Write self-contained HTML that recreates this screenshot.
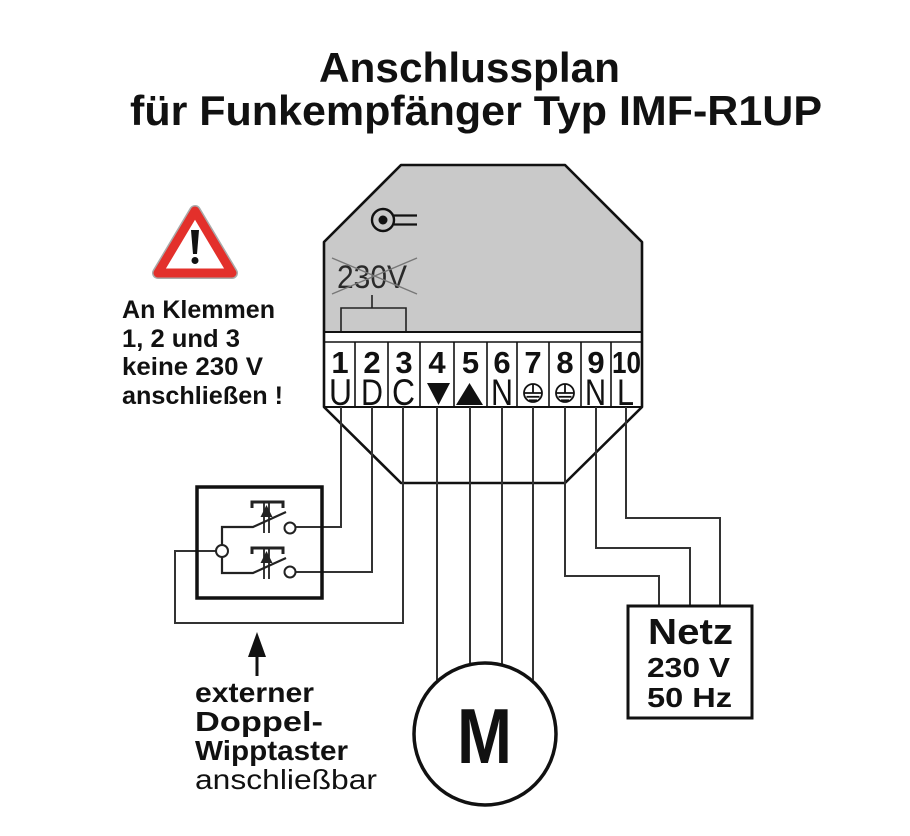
<!DOCTYPE html>
<html><head><meta charset="utf-8"><style>
html,body{margin:0;padding:0;background:#fff;}
svg{display:block;}
text{font-family:"Liberation Sans",Arial,sans-serif;}
</style></head><body>
<svg width="910" height="836" viewBox="0 0 910 836" xmlns="http://www.w3.org/2000/svg">
<rect width="910" height="836" fill="#fff"/>
<!-- Title -->
<text x="319" y="82" font-size="42" font-weight="bold" textLength="301" lengthAdjust="spacingAndGlyphs" fill="#111">Anschlussplan</text>
<text x="130" y="125" font-size="42" font-weight="bold" textLength="692" lengthAdjust="spacingAndGlyphs" fill="#111">für Funkempfänger Typ IMF-R1UP</text>

<!-- Warning triangle -->
<polygon points="195,211 158,273 232,273" fill="#fff" stroke="#aaa" stroke-width="12" stroke-linejoin="round"/>
<polygon points="195,211 158,273 232,273" fill="#fff" stroke="#e3302b" stroke-width="9" stroke-linejoin="round"/>
<path d="M191,230 L199,230 L197,254 L193,254 Z" fill="#111"/>
<circle cx="195" cy="260.5" r="3.5" fill="#111"/>

<g font-size="25" font-weight="bold" fill="#111">
<text x="122" y="318" textLength="153" lengthAdjust="spacingAndGlyphs">An Klemmen</text>
<text x="122" y="347" textLength="118" lengthAdjust="spacingAndGlyphs">1, 2 und 3</text>
<text x="122" y="375" textLength="141" lengthAdjust="spacingAndGlyphs">keine 230 V</text>
<text x="122" y="404" textLength="161" lengthAdjust="spacingAndGlyphs">anschließen !</text>
</g>

<!-- Device -->
<path d="M401,165 L565,165 L642,242 L642,407 L565,483 L401,483 L324,407 L324,242 Z" fill="#fff"/>
<path d="M401,165 L565,165 L642,242 L642,332 L324,332 L324,242 Z" fill="#c9c9c9"/>
<!-- icon -->
<circle cx="383" cy="220" r="11" fill="none" stroke="#111" stroke-width="2.4"/>
<circle cx="383" cy="220" r="4.5" fill="#111"/>
<line x1="394" y1="215.5" x2="417" y2="215.5" stroke="#111" stroke-width="2.2"/>
<line x1="394" y1="224.5" x2="417" y2="224.5" stroke="#111" stroke-width="2.2"/>
<!-- 230V crossed -->
<text x="337" y="288" font-size="32" fill="#2a2a2a" textLength="70" lengthAdjust="spacingAndGlyphs">230V</text>
<line x1="332" y1="258" x2="417" y2="294" stroke="#777" stroke-width="1.4"/>
<line x1="332" y1="294" x2="417" y2="258" stroke="#777" stroke-width="1.4"/>
<line x1="372" y1="295" x2="372" y2="308" stroke="#222" stroke-width="1.6"/>
<path d="M341,332 L341,308 L406,308 L406,332" fill="none" stroke="#222" stroke-width="1.6"/>

<!-- terminal lines -->
<g stroke="#111" stroke-width="1.6">
<line x1="324" y1="332" x2="642" y2="332" stroke-width="2"/>
<line x1="324" y1="342" x2="642" y2="342"/>
<line x1="324" y1="407" x2="642" y2="407" stroke-width="2"/>
<line x1="355" y1="342" x2="355" y2="407"/>
<line x1="388" y1="342" x2="388" y2="407"/>
<line x1="420" y1="342" x2="420" y2="407"/>
<line x1="454" y1="342" x2="454" y2="407"/>
<line x1="487" y1="342" x2="487" y2="407"/>
<line x1="517" y1="342" x2="517" y2="407"/>
<line x1="549" y1="342" x2="549" y2="407"/>
<line x1="581" y1="342" x2="581" y2="407"/>
<line x1="611" y1="342" x2="611" y2="407"/>
</g>
<g font-size="31" font-weight="bold" fill="#111" text-anchor="middle">
<text x="340" y="373">1</text>
<text x="372" y="373">2</text>
<text x="404" y="373">3</text>
<text x="437" y="373">4</text>
<text x="470.5" y="373">5</text>
<text x="502" y="373">6</text>
<text x="533" y="373">7</text>
<text x="565" y="373">8</text>
<text x="596" y="373">9</text>
<text x="626.5" y="373" textLength="29" lengthAdjust="spacingAndGlyphs">10</text>
</g>
<g font-size="37" fill="#111">
<text x="329" y="405" textLength="23" lengthAdjust="spacingAndGlyphs">U</text>
<text x="361" y="405" textLength="22" lengthAdjust="spacingAndGlyphs">D</text>
<text x="392" y="405" textLength="23" lengthAdjust="spacingAndGlyphs">C</text>
<text x="491" y="405" textLength="22" lengthAdjust="spacingAndGlyphs">N</text>
<text x="585" y="405" textLength="21" lengthAdjust="spacingAndGlyphs">N</text>
<text x="617" y="405" textLength="17" lengthAdjust="spacingAndGlyphs">L</text>
</g>
<polygon points="427,383 450,383 438.5,405" fill="#111"/>
<polygon points="456,405 483,405 469.5,383" fill="#111"/>
<!-- earth symbols -->
<g fill="none" stroke="#111" stroke-width="1.8">
<circle cx="533" cy="393" r="9"/>
<line x1="533" y1="384" x2="533" y2="393"/>
<line x1="524" y1="393" x2="542" y2="393"/>
<line x1="526.5" y1="396.8" x2="539.5" y2="396.8"/>
<line x1="529" y1="400.3" x2="537" y2="400.3"/>
<circle cx="565" cy="393" r="9"/>
<line x1="565" y1="384" x2="565" y2="393"/>
<line x1="556" y1="393" x2="574" y2="393"/>
<line x1="558.5" y1="396.8" x2="571.5" y2="396.8"/>
<line x1="561" y1="400.3" x2="569" y2="400.3"/>
</g>
<!-- device outline -->
<path d="M401,165 L565,165 L642,242 L642,407 L565,483 L401,483 L324,407 L324,242 Z" fill="none" stroke="#111" stroke-width="2.6" stroke-linejoin="round"/>

<!-- wires -->
<g fill="none" stroke="#333" stroke-width="2" stroke-linejoin="miter">
<path d="M341,407 L341,527 L295,527"/>
<path d="M372,407 L372,572 L295,572"/>
<path d="M403,407 L403,623 L175,623 L175,551 L216,551"/>
<path d="M437,407 L437,680"/>
<path d="M470,407 L470,664"/>
<path d="M502,407 L502,664"/>
<path d="M533,407 L533,680"/>
<path d="M565,407 L565,576 L659,576 L659,606"/>
<path d="M596,407 L596,548 L690,548 L690,606"/>
<path d="M626,407 L626,518 L720,518 L720,606"/>
</g>

<!-- switch box -->
<rect x="197" y="487" width="125" height="111" fill="none" stroke="#111" stroke-width="3.5"/>
<g fill="none" stroke="#222" stroke-width="2.2">
<path d="M222,545 L222,527 L253,527 L286,512"/>
<path d="M222,557 L222,573 L253,573 L286,558"/>
<!-- push button 1 -->
<path d="M252,508 L252,502 L283,502 L283,508" stroke-width="3"/>
<line x1="264" y1="502" x2="264" y2="533" stroke-width="1.8"/>
<line x1="269" y1="502" x2="269" y2="533" stroke-width="1.8"/>
<!-- push button 2 -->
<path d="M252,554 L252,548 L283,548 L283,554" stroke-width="3"/>
<line x1="264" y1="548" x2="264" y2="579" stroke-width="1.8"/>
<line x1="269" y1="548" x2="269" y2="579" stroke-width="1.8"/>
</g>
<polygon points="266.5,505 260.5,517 272.5,517" fill="#222"/>
<polygon points="266.5,551 260.5,563 272.5,563" fill="#222"/>
<g fill="#fff" stroke="#222" stroke-width="2">
<circle cx="222" cy="551" r="6"/>
<circle cx="290" cy="528" r="5.5"/>
<circle cx="290" cy="572" r="5.5"/>
</g>

<!-- arrow and bottom text -->
<line x1="257" y1="652" x2="257" y2="676" stroke="#111" stroke-width="3"/>
<polygon points="257,632 248,657 266,657" fill="#111"/>
<g font-size="28" fill="#111">
<text x="195" y="702" font-weight="bold" textLength="119" lengthAdjust="spacingAndGlyphs">externer</text>
<text x="195" y="731" font-weight="bold" textLength="128" lengthAdjust="spacingAndGlyphs">Doppel-</text>
<text x="195" y="760" font-weight="bold" textLength="153" lengthAdjust="spacingAndGlyphs">Wipptaster</text>
<text x="195" y="789" textLength="182" lengthAdjust="spacingAndGlyphs">anschließbar</text>
</g>

<!-- Motor -->
<circle cx="485" cy="734" r="71" fill="none" stroke="#111" stroke-width="3.5"/>
<text x="457" y="763" font-size="78" font-weight="bold" fill="#111" textLength="55" lengthAdjust="spacingAndGlyphs">M</text>

<!-- Netz -->
<rect x="628" y="606" width="124" height="112" fill="none" stroke="#111" stroke-width="3"/>
<g font-weight="bold" fill="#111">
<text x="648" y="644" font-size="36" textLength="85" lengthAdjust="spacingAndGlyphs">Netz</text>
<text x="647" y="677" font-size="28" textLength="83" lengthAdjust="spacingAndGlyphs">230 V</text>
<text x="647" y="707" font-size="28" textLength="85" lengthAdjust="spacingAndGlyphs">50 Hz</text>
</g>
</svg>
</body></html>
